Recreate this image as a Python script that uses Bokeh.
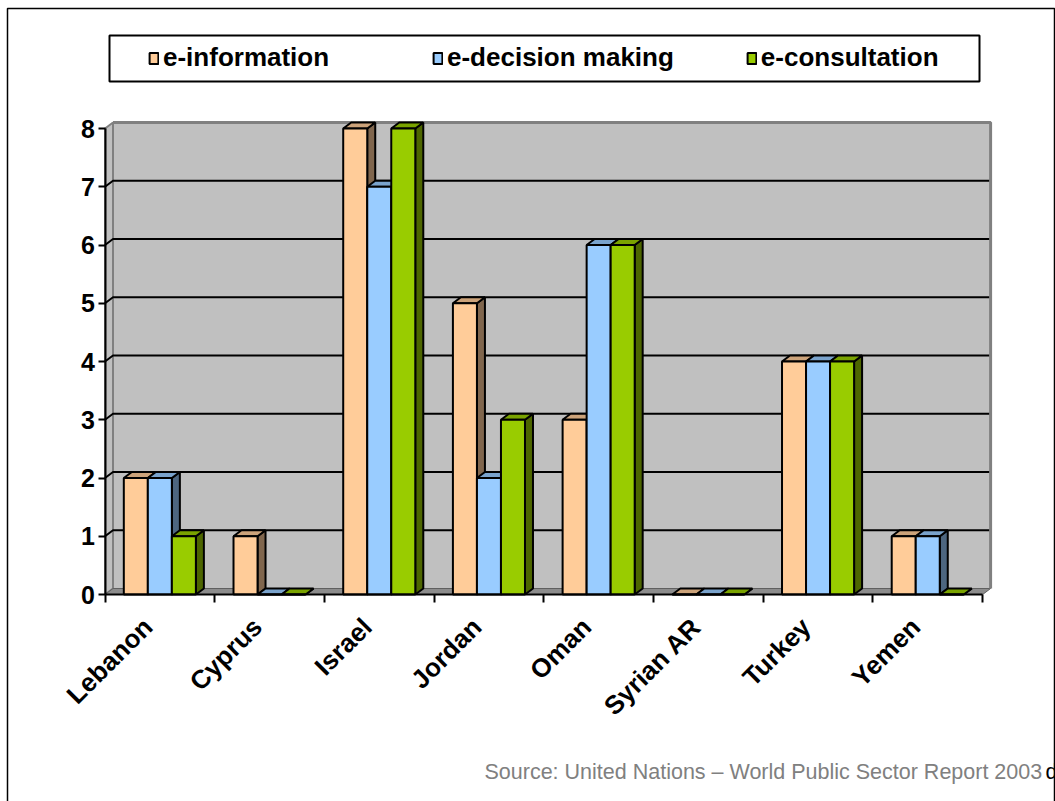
from bokeh.plotting import figure
from bokeh.models import Range1d, FixedTicker, Legend, LegendItem, Label, BoxAnnotation
from bokeh.embed import file_html
from bokeh.resources import INLINE
import math

# ---------------- data ----------------
countries = ["Lebanon", "Cyprus", "Israel", "Jordan", "Oman", "Syrian AR", "Turkey", "Yemen"]
e_information = [2, 1, 8, 5, 3, 0, 4, 1]
e_decision_making = [2, 0, 7, 2, 6, 0, 4, 1]
e_consultation = [1, 0, 8, 3, 6, 0, 4, 0]
series_names = ["e-information", "e-decision making", "e-consultation"]
y_ticks = [0, 1, 2, 3, 4, 5, 6, 7, 8]
source_text = "Source: United Nations \u2013 World Public Sector Report 2003"
source_tail = "d"

# ---------------- styles ----------------
front_colors = ["#FFCC99", "#99CCFF", "#99CC00"]
top_colors = ["#CCA37A", "#7AA3CC", "#7AA300"]
side_colors = ["#80664D", "#4D6680", "#4D6600"]
FONT = "Liberation Sans"

W, H = 1055, 801
ORIGIN_X, ORIGIN_Y = 104.5, 594.0   # pixel position of the axes origin
PX_X = 109.7   # pixels per category
PX_Y = 58.25   # pixels per unit
DX = 8 / PX_X  # depth offset (x)
DY = 6 / PX_Y  # depth offset (y)
BAR_W = 0.219
LABEL_SHIFT = -0.11

n = len(countries)
ymax = y_ticks[-1]

p = figure(width=W, height=H,
           x_range=Range1d(-ORIGIN_X / PX_X, (W - ORIGIN_X) / PX_X),
           y_range=Range1d(-(H - ORIGIN_Y) / PX_Y, ORIGIN_Y / PX_Y),
           output_backend="svg", toolbar_location=None,
           min_border_left=0, min_border_right=0,
           min_border_top=0, min_border_bottom=0,
           background_fill_color="white", border_fill_color="white")
p.outline_line_color = None
p.grid.visible = False

# ---------------- 3D walls ----------------
p.quad(left=DX, right=n + DX, bottom=DY, top=ymax + DY,
       fill_color="#C0C0C0", line_color=None)
p.patch([0, DX, DX, 0], [0, DY, ymax + DY, ymax],
        fill_color="#C0C0C0", line_color="#808080", line_width=2)
p.patch([0, n, n + DX, DX], [0, 0, DY, DY],
        fill_color="#8C8C8C", line_color="#606060", line_width=1)
gx, gy = [], []
for v in y_ticks[1:-1]:
    gx.append([0, DX, n + DX])
    gy.append([v, v + DY, v + DY])
p.multi_line(gx, gy, line_color="black", line_width=2)
p.line([DX, n + DX, n + DX], [ymax + DY, ymax + DY, DY],
       line_color="#808080", line_width=3)

# ---------------- bars ----------------
series = [e_information, e_decision_making, e_consultation]
legend_items = []
for s, vals in enumerate(series):
    lefts = [i + 0.5 - 1.5 * BAR_W + s * BAR_W for i in range(n)]
    rights = [l + BAR_W for l in lefts]
    side_xs = [[r, r + DX, r + DX, r] for r in rights]
    side_ys = [[0, DY, v + DY, v] for v in vals]
    top_xs = [[l, r, r + DX, l + DX] for l, r in zip(lefts, rights)]
    top_ys = [[v, v, v + DY, v + DY] for v in vals]
    p.patches(side_xs, side_ys, fill_color=side_colors[s], line_color="black", line_width=2)
    p.patches(top_xs, top_ys, fill_color=top_colors[s], line_color="black", line_width=2)
    r = p.quad(left=lefts, right=rights, bottom=[0] * n, top=vals,
               fill_color=front_colors[s], line_color="black", line_width=2)
    legend_items.append(LegendItem(label=series_names[s], renderers=[r]))

# ---------------- axes ----------------
ya = p.yaxis[0]
ya.fixed_location = 0
ya.ticker = FixedTicker(ticks=y_ticks)
ya.bounds = (0, ymax)
ya.axis_line_width = 2
ya.axis_line_color = "black"
ya.major_tick_line_width = 2
ya.major_tick_out = 7
ya.major_tick_in = 0
ya.minor_tick_line_color = None
ya.major_label_text_font = FONT
ya.major_label_text_font_style = "bold"
ya.major_label_text_font_size = "25px"
ya.major_label_text_color = "black"
ya.major_label_standoff = 3

xa = p.xaxis[0]
xa.fixed_location = 0
label_pos = [i + 0.5 + LABEL_SHIFT for i in range(n)]
xa.ticker = FixedTicker(ticks=label_pos, minor_ticks=list(range(n + 1)))
xa.major_label_overrides = {c: name for c, name in zip(label_pos, countries)}
xa.bounds = (0, n)
xa.axis_line_width = 2
xa.axis_line_color = "black"
xa.major_tick_line_color = None
xa.minor_tick_line_color = "black"
xa.minor_tick_line_width = 2
xa.minor_tick_out = 8
xa.minor_tick_in = 0
xa.major_label_orientation = math.pi / 4
xa.major_label_text_font = FONT
xa.major_label_text_font_style = "bold"
xa.major_label_text_font_size = "26px"
xa.major_label_text_color = "black"
xa.major_label_standoff = 20

# ---------------- legend ----------------
legend = Legend(items=legend_items, orientation="horizontal", location=(148, H - 73),
                margin=0, padding=0, spacing=72, label_standoff=4, label_width=197,
                glyph_width=11, glyph_height=14,
                border_line_color=None, background_fill_alpha=0,
                label_text_font=FONT, label_text_font_style="bold",
                label_text_font_size="26px", label_text_color="black")
p.add_layout(legend, "center")
box = BoxAnnotation(left=109, right=979, bottom=H - 81, top=H - 35,
                    left_units="screen", right_units="screen",
                    bottom_units="screen", top_units="screen",
                    fill_alpha=0, line_color="black", line_alpha=1, line_width=2)
p.add_layout(box)
frame_border = BoxAnnotation(left=7, right=1054, bottom=-10, top=H - 8,
                             left_units="screen", right_units="screen",
                             bottom_units="screen", top_units="screen",
                             fill_alpha=0, line_color="black", line_alpha=1, line_width=1.5)
p.add_layout(frame_border)

# ---------------- source ----------------
p.add_layout(Label(x=484, y=H - 771, x_units="screen", y_units="screen",
                   text=source_text, text_color="#808080", text_font=FONT,
                   text_font_size="21.5px", text_baseline="middle"))
p.add_layout(Label(x=1045, y=H - 771, x_units="screen", y_units="screen",
                   text=source_tail, text_color="black", text_font=FONT,
                   text_font_size="21.5px", text_baseline="middle"))

open("out.html", "w").write(file_html(p, INLINE))
